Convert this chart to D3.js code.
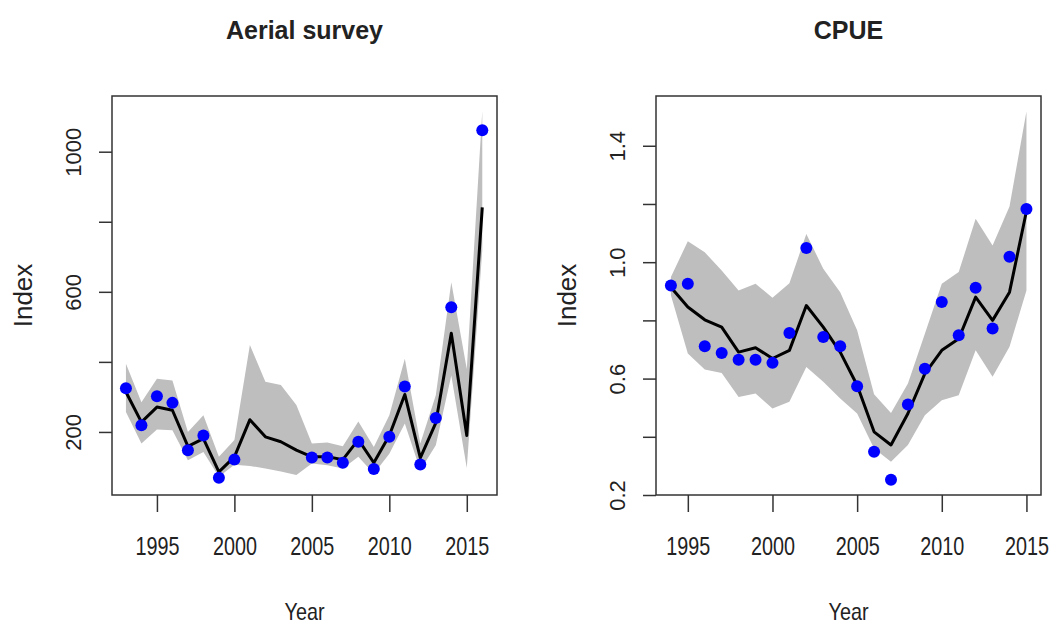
<!DOCTYPE html>
<html>
<head>
<meta charset="utf-8">
<script src="https://cdn.jsdelivr.net/npm/d3@7"></script>
<style>
  body { margin: 0; background: #fff; }
  text { font-family: "Liberation Sans", Arial, sans-serif; fill: #222; }
</style>
</head>
<body>
<div id="chart"></div>
<script>
// Aerial survey panel (1993-2016)
var years1 = d3.range(1993, 2017);
var obs1 = [325, 219, 302, 283, 148, 190, 69, 121, null, null, null, null,
            127, 127, 112, 172, 94, 186, 330, 107, 240, 556, null, 1061];
var fit1 = [314, 228, 271, 262, 159, 181, 86, 129, 235, 186, 172, 148,
            129, 129, 121, 178, 112, 190, 307, 126, 226, 482, 190, 841];
var upper1 = [395, 285, 352, 347, 200, 248, 129, 177, 448, 343, 334, 277,
              167, 170, 159, 230, 157, 248, 409, 167, 305, 627, 380, 1116];
var lower1 = [257, 167, 207, 205, 119, 143, 72, 106, 103, 96, 87, 77,
              110, 105, 96, 129, 81, 138, 224, 91, 162, 361, 97, 720];
var yTicks1 = [200, 400, 600, 800, 1000];
var yLabels1 = [200, 600, 1000];

// CPUE panel (1994-2015)
var years2 = d3.range(1994, 2016);
var obs2 = [0.920, 0.926, 0.711, 0.688, 0.665, 0.665, 0.654, 0.757, 1.049, 0.743, 0.711,
            0.574, 0.349, 0.252, 0.511, 0.634, 0.863, 0.749, 0.912, 0.772, 1.019, 1.183];
var fit2 = [0.914, 0.846, 0.802, 0.777, 0.691, 0.706, 0.669, 0.697, 0.851, 0.777, 0.691,
            0.577, 0.417, 0.372, 0.480, 0.617, 0.697, 0.737, 0.880, 0.800, 0.897, 1.175];
var upper2 = [0.949, 1.072, 1.034, 0.971, 0.903, 0.926, 0.878, 0.928, 1.097, 0.977, 0.897,
              0.766, 0.546, 0.482, 0.583, 0.754, 0.926, 0.966, 1.149, 1.057, 1.191, 1.518];
var lower2 = [0.886, 0.686, 0.631, 0.619, 0.537, 0.549, 0.497, 0.520, 0.640, 0.589, 0.532,
              0.480, 0.360, 0.314, 0.372, 0.474, 0.526, 0.543, 0.697, 0.606, 0.709, 0.903];
var yTicks2 = [0.2, 0.4, 0.6, 0.8, 1.0, 1.2, 1.4];
var yLabels2 = [0.2, 0.6, 1.0, 1.4];

var xTicks = [1995, 2000, 2005, 2010, 2015];

function drawPanel(svg, p)
{
  var top = 96, bottom = 495;

  var x = d3.scaleLinear().domain(p.xDomain).range([p.left, p.right]);
  var y = d3.scaleLinear().domain(p.yDomain).range([bottom, top]);

  var rows = p.years.map(function(yr, i){
    return {year: yr, obs: p.obs[i], fit: p.fit[i], lo: p.lower[i], hi: p.upper[i]};
  });

  var g = svg.append("g");

  // confidence band
  g.append("path")
    .datum(rows)
    .attr("fill", "#bebebe")
    .attr("d", d3.area()
      .x(function(d){ return x(d.year); })
      .y0(function(d){ return y(d.lo); })
      .y1(function(d){ return y(d.hi); }));

  // fitted line
  g.append("path")
    .datum(rows)
    .attr("fill", "none")
    .attr("stroke", "#000")
    .attr("stroke-width", 3)
    .attr("stroke-linejoin", "round")
    .attr("d", d3.line()
      .x(function(d){ return x(d.year); })
      .y(function(d){ return y(d.fit); }));

  // observed points
  g.selectAll("circle")
    .data(rows.filter(function(d){ return d.obs != null; }))
    .enter()
    .append("circle")
    .attr("cx", function(d){ return x(d.year); })
    .attr("cy", function(d){ return y(d.obs); })
    .attr("r", 6)
    .attr("fill", "#0000ff");

  // box
  g.append("rect")
    .attr("x", p.left)
    .attr("y", top)
    .attr("width", p.right - p.left)
    .attr("height", bottom - top)
    .attr("fill", "none")
    .attr("stroke", "#333")
    .attr("stroke-width", 1.5);

  // x axis
  var xa = g.append("g")
    .attr("transform", "translate(0," + bottom + ")")
    .call(d3.axisBottom(x).tickValues(xTicks).tickFormat(d3.format("d"))
      .tickSizeInner(17).tickSizeOuter(0).tickPadding(25));
  xa.select(".domain").remove();
  xa.selectAll("line").attr("stroke", "#333").attr("stroke-width", 1.5);
  xa.selectAll("text")
    .attr("font-size", 26)
    .attr("font-family", "Liberation Sans, Arial, sans-serif")
    .attr("fill", "#222")
    .attr("textLength", 44)
    .attr("lengthAdjust", "spacingAndGlyphs");

  // y axis
  var ya = g.append("g")
    .attr("transform", "translate(" + p.left + ",0)")
    .call(d3.axisLeft(y).tickValues(p.yTicks)
      .tickFormat(function(d){ return p.yLabels.indexOf(d) >= 0 ? p.fmt(d) : ""; })
      .tickSizeInner(13).tickSizeOuter(0));
  ya.select(".domain").remove();
  ya.selectAll("line").attr("stroke", "#333").attr("stroke-width", 1.5);
  ya.selectAll("text")
    .attr("font-size", 22)
    .attr("font-family", "Liberation Sans, Arial, sans-serif")
    .attr("fill", "#222")
    .attr("x", 0)
    .attr("dy", 0)
    .attr("text-anchor", "middle")
    .attr("transform", "translate(-31,0) rotate(-90)");

  // titles and axis labels
  var cx = (p.left + p.right) / 2;
  g.append("text")
    .attr("x", cx)
    .attr("y", 39)
    .attr("text-anchor", "middle")
    .attr("font-size", 25)
    .attr("font-weight", "bold")
    .text(p.title);

  g.append("text")
    .attr("x", cx)
    .attr("y", 620)
    .attr("text-anchor", "middle")
    .attr("font-size", 24)
    .attr("textLength", 40)
    .attr("lengthAdjust", "spacingAndGlyphs")
    .text("Year");

  g.append("text")
    .attr("transform", "translate(" + (p.left - 80) + "," + ((top + bottom) / 2) + ") rotate(-90)")
    .attr("text-anchor", "middle")
    .attr("font-size", 26)
    .text("Index");
}

function init()
{
  var svg = d3.select("#chart")
    .append("svg")
    .attr("width", 1053)
    .attr("height", 626);

  drawPanel(svg, {
    title: "Aerial survey",
    left: 112, right: 497,
    xDomain: [1992.1, 2016.95],
    yDomain: [20, 1159],
    years: years1, obs: obs1, fit: fit1, upper: upper1, lower: lower1,
    yTicks: yTicks1, yLabels: yLabels1,
    fmt: d3.format("d")
  });

  drawPanel(svg, {
    title: "CPUE",
    left: 656, right: 1041,
    xDomain: [1993.12, 2015.86],
    yDomain: [0.2, 1.571],
    years: years2, obs: obs2, fit: fit2, upper: upper2, lower: lower2,
    yTicks: yTicks2, yLabels: yLabels2,
    fmt: d3.format(".1f")
  });
}

window.onload = init;
</script>
</body>
</html>
